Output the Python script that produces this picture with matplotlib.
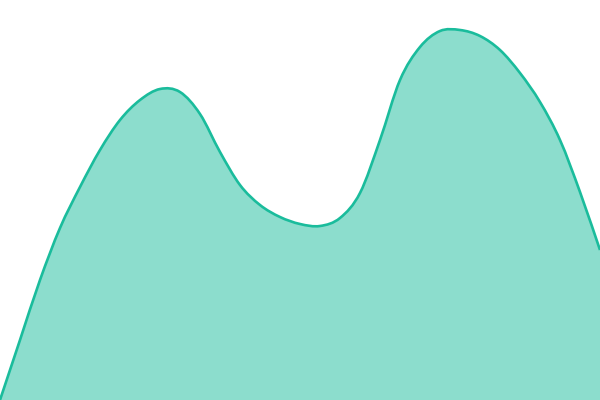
import matplotlib
matplotlib.use("Agg")
import matplotlib.pyplot as plt
import numpy as np
from matplotlib.path import Path
from matplotlib.patches import PathPatch

# values (x position, height above baseline)
xs = [0, 20, 40, 60, 80, 100, 120, 140, 160, 180, 200, 220, 240, 260, 280,
      300, 320, 340, 360, 380, 400, 420, 440, 460, 480, 500, 520, 540, 560,
      580, 600]
vals = [0, 60, 120, 172, 213, 250, 280, 300, 311, 308, 286, 248, 215, 195,
        183, 176, 174, 182, 207, 260, 320, 353, 369, 370, 364, 350, 327, 298,
        260, 208, 150]

color = "#1abc9c"


def smooth_verts(x, y):
    # catmull-rom -> cubic bezier
    pts = np.column_stack([x, y]).astype(float)
    verts = [tuple(pts[0])]
    codes = [Path.MOVETO]
    n = len(pts)
    for i in range(n - 1):
        p0 = pts[max(i - 1, 0)]
        p1 = pts[i]
        p2 = pts[i + 1]
        p3 = pts[min(i + 2, n - 1)]
        c1 = p1 + (p2 - p0) / 6.0
        c2 = p2 - (p3 - p1) / 6.0
        verts += [tuple(c1), tuple(c2), tuple(p2)]
        codes += [Path.CURVE4] * 3
    return verts, codes


fig = plt.figure(figsize=(6, 4), dpi=100)
ax = fig.add_axes([0, 0, 1, 1])

verts, codes = smooth_verts(xs, vals)
line = Path(verts, codes)

fverts = verts + [(xs[-1], 0), (xs[0], 0), verts[0]]
fcodes = codes + [Path.LINETO, Path.LINETO, Path.CLOSEPOLY]
ax.add_patch(PathPatch(Path(fverts, fcodes), facecolor=color, alpha=0.5,
                       edgecolor="none"))
ax.add_patch(PathPatch(line, facecolor="none", edgecolor=color, lw=1.9))

ax.set_xlim(0, 600)
ax.set_ylim(0, 400)
ax.axis("off")

fig.savefig("out.png", dpi=100)
